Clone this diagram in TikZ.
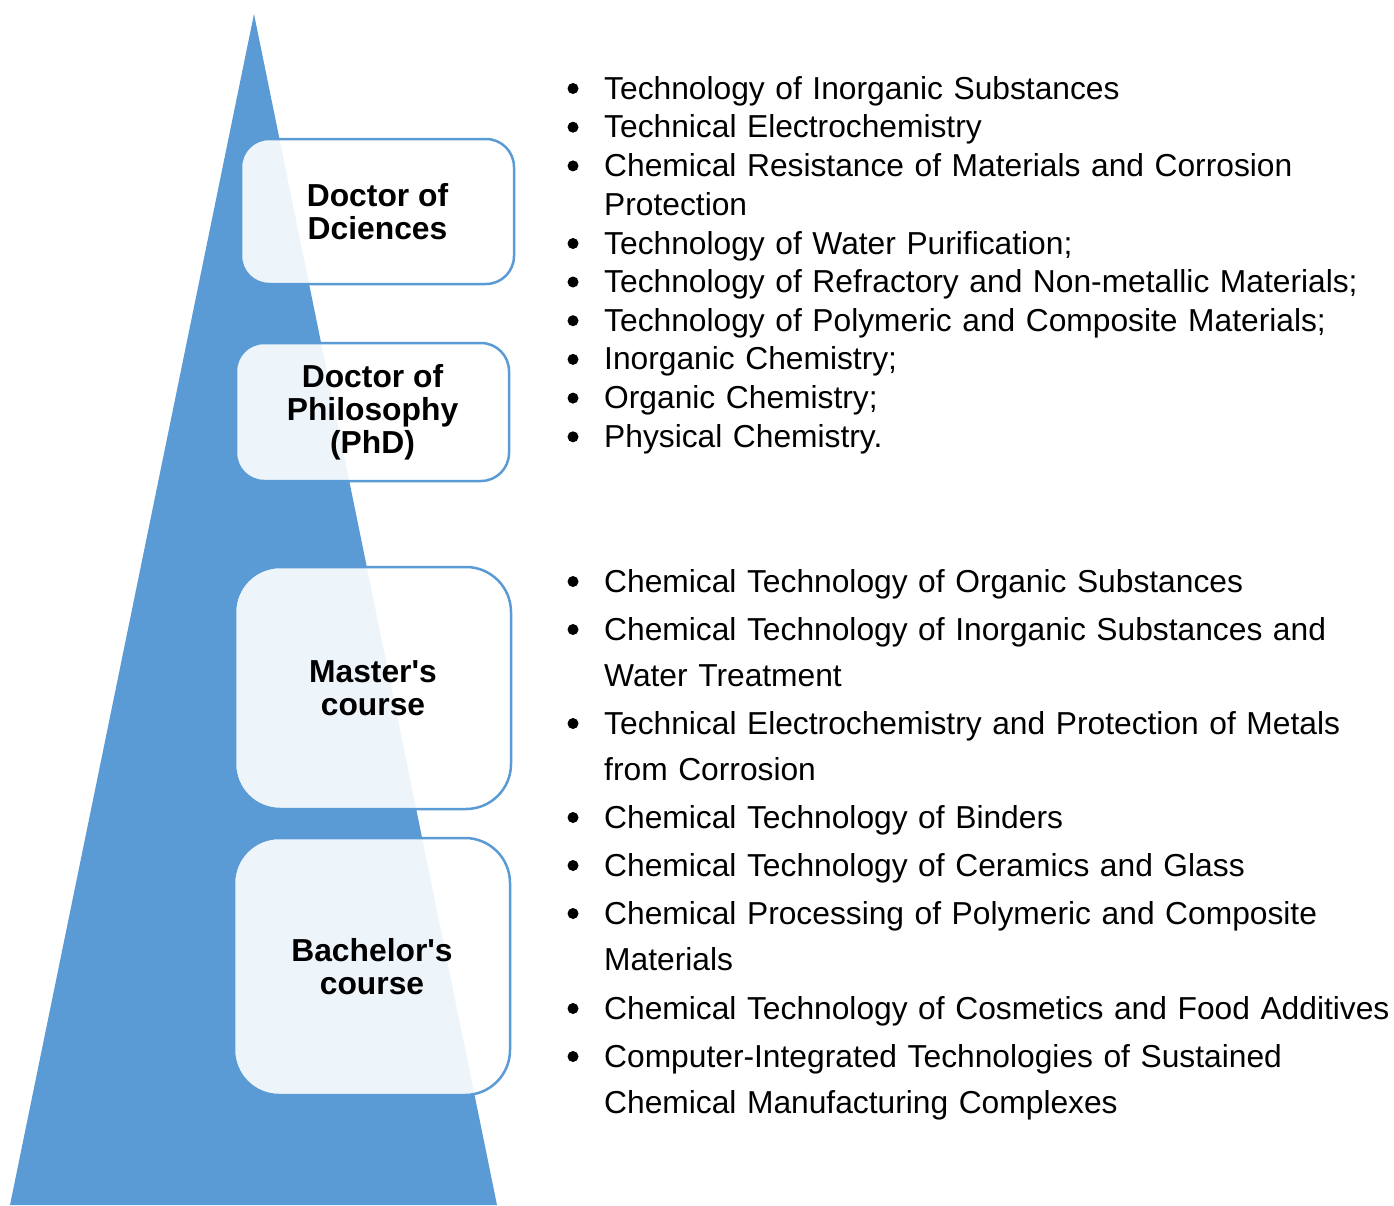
\documentclass[tikz,border=0pt]{standalone}
\usepackage{fontspec}
\setmainfont{Liberation Sans}
\usetikzlibrary{positioning}
\definecolor{pyramid}{HTML}{5B9BD5}
\tikzset{
  level/.style={draw=pyramid, line width=2.5pt, fill=white, fill opacity=0.9, text opacity=1,
    align=center, inner sep=0pt, font=\fontsize{31.8}{33}\selectfont\bfseries},
  topic/.style={anchor=base west, align=left, text width=900pt, inner sep=0pt, font=\fontsize{31.75}{38.7}\selectfont},
  course/.style={topic, font=\fontsize{31.75}{46}\selectfont},
}
\begin{document}
\begin{tikzpicture}[x=1pt,y=-1pt]
    \useasboundingbox (0,0) rectangle (1394,1205);
    % pyramid
    \fill[pyramid] (254,14) -- (10,1205) -- (497,1205) -- cycle;

    % degree levels
    \node[level, rounded corners=28pt, minimum width=273pt, minimum height=145pt] (dsc) at (377.5,211.5) {Doctor of\\Dciences};
    \node[level, rounded corners=28pt, minimum width=273pt, minimum height=138pt] (phd) at (372.5,412) {Doctor of\\Philosophy\\(PhD)};
    \node[level, rounded corners=45pt, minimum width=276pt, minimum height=242pt] (master) at (373,688) {Master\textquotesingle s\\course};
    \node[level, rounded corners=45pt, minimum width=276pt, minimum height=257pt] (bachelor) at (372,966.5) {Bachelor\textquotesingle s\\course};

    % postgraduate specialities
    \node[topic] (t1) at (604,99) {Technology of Inorganic Substances};
    \node[topic] (t2) at (604,137.7) {Technical Electrochemistry};
    \node[topic] (t3) at (604,176.4) {Chemical Resistance of Materials and Corrosion\\Protection};
    \node[topic] (t4) at (604,254) {Technology of Water Purification;};
    \node[topic] (t5) at (604,292.5) {Technology of Refractory and Non-metallic Materials;};
    \node[topic] (t6) at (604,331.2) {Technology of Polymeric and Composite Materials;};
    \node[topic] (t7) at (604,369.9) {Inorganic Chemistry;};
    \node[topic] (t8) at (604,408.6) {Organic Chemistry;};
    \node[topic] (t9) at (604,447.3) {Physical Chemistry.};

    % study programmes
    \node[course] (c1) at (604,592) {Chemical Technology of Organic Substances};
    \node[course] (c2) at (604,640) {Chemical Technology of Inorganic Substances and\\Water Treatment};
    \node[course] (c3) at (604,734) {Technical Electrochemistry and Protection of Metals\\from Corrosion};
    \node[course] (c4) at (604,828) {Chemical Technology of Binders};
    \node[course] (c5) at (604,876) {Chemical Technology of Ceramics and Glass};
    \node[course] (c6) at (604,924) {Chemical Processing of Polymeric and Composite\\Materials};
    \node[course] (c7) at (604,1019) {Chemical Technology of Cosmetics and Food Additives};
    \node[course] (c8) at (604,1067) {Computer-Integrated Technologies of Sustained\\Chemical Manufacturing Complexes};

    % bullets
    \foreach \n in {t1,t2,t3,t4,t5,t6,t7,t8,t9,c1,c2,c3,c4,c5,c6,c7,c8}
      \fill (\n.base west) ++(-31,-10.5) circle[radius=5.5pt];
\end{tikzpicture}
\end{document}
